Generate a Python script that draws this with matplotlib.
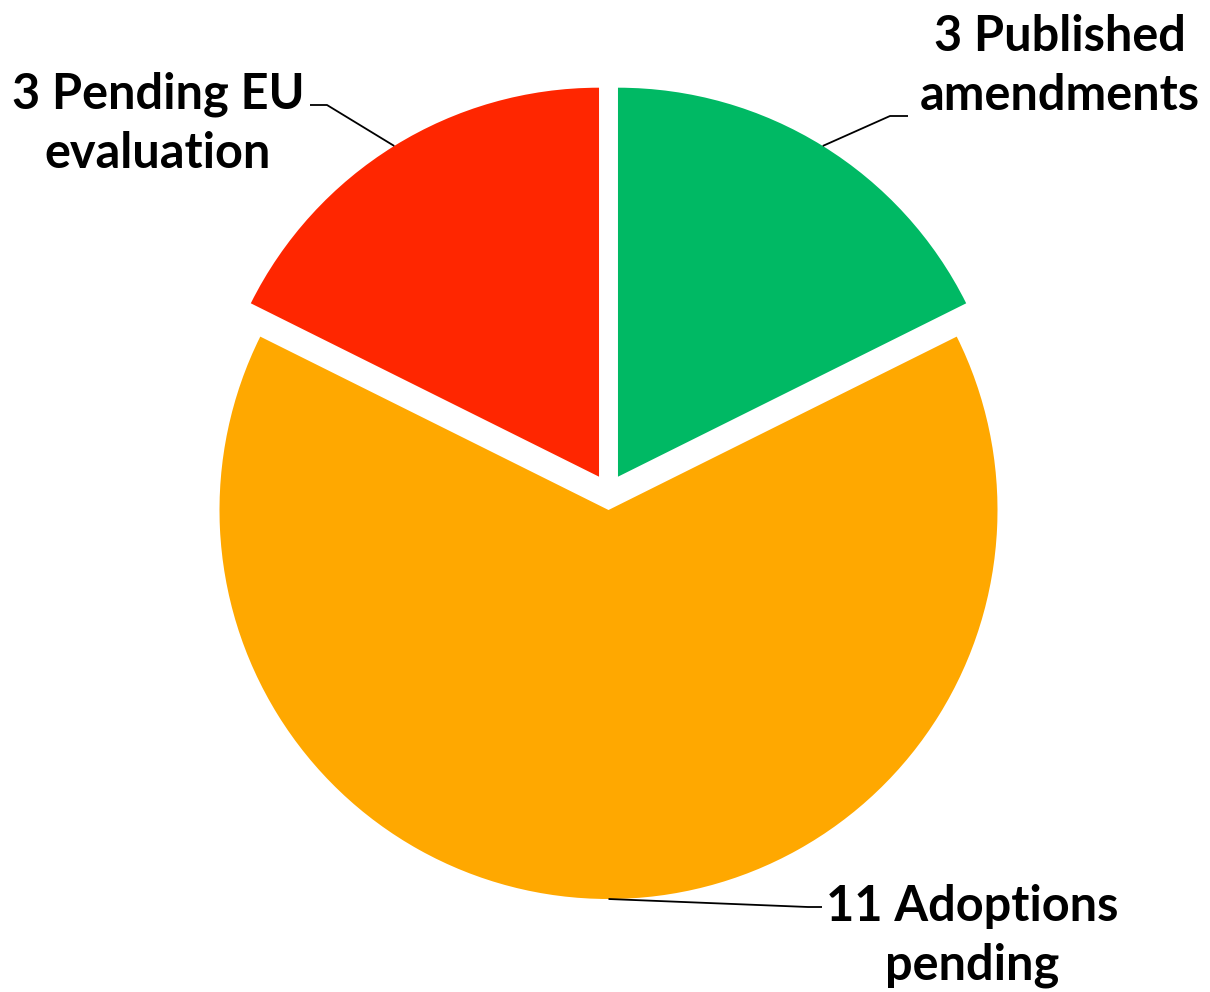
import numpy as np
import matplotlib.pyplot as plt

labels = ['3 Published\namendments', '11 Adoptions\npending', '3 Pending EU\nevaluation']
values = [3, 11, 3]
colors = ['#00B964', '#FFA800', '#FF2600']

# figure laid out in pixel units, y up
W, H = 1210, 992
fig = plt.figure(figsize=(W / 100, H / 100), dpi=100)
ax = fig.add_axes([0, 0, 1, 1])

R = 389
center = (608.5, H - 492)
# explode is in data units here (pixels)
wedges, _ = ax.pie(values, colors=colors, startangle=90, counterclock=False,
                   radius=R, center=center, explode=[18] * 3,
                   wedgeprops=dict(linewidth=0), frame=True)
ax.set_xlim(0, W)
ax.set_ylim(0, H)
ax.set_aspect('equal')
ax.axis('off')

# label text positions and leader elbows (pixel coords, y from top)
text_pos = [(1060, 66), (972, 936), (158, 124)]
elbows = [[(890, 116), (908, 116)], [(808, 907), (822, 907)], [(327, 105), (310, 105)]]

for w, lab, tp, el in zip(wedges, labels, text_pos, elbows):
    ang = np.deg2rad((w.theta1 + w.theta2) / 2)
    cx, cy = w.center
    ax0 = cx + R * np.cos(ang)
    ay0 = cy + R * np.sin(ang)
    xs = [ax0] + [p[0] for p in el]
    ys = [ay0] + [H - p[1] for p in el]
    ax.plot(xs, ys, color='black', lw=1.3, solid_capstyle='butt')
    ax.text(tp[0], H - tp[1], lab, ha='center', va='center', fontsize=35,
            fontweight='bold', family='Lato', linespacing=1.37, color='black')

plt.savefig('out.png', dpi=100)
